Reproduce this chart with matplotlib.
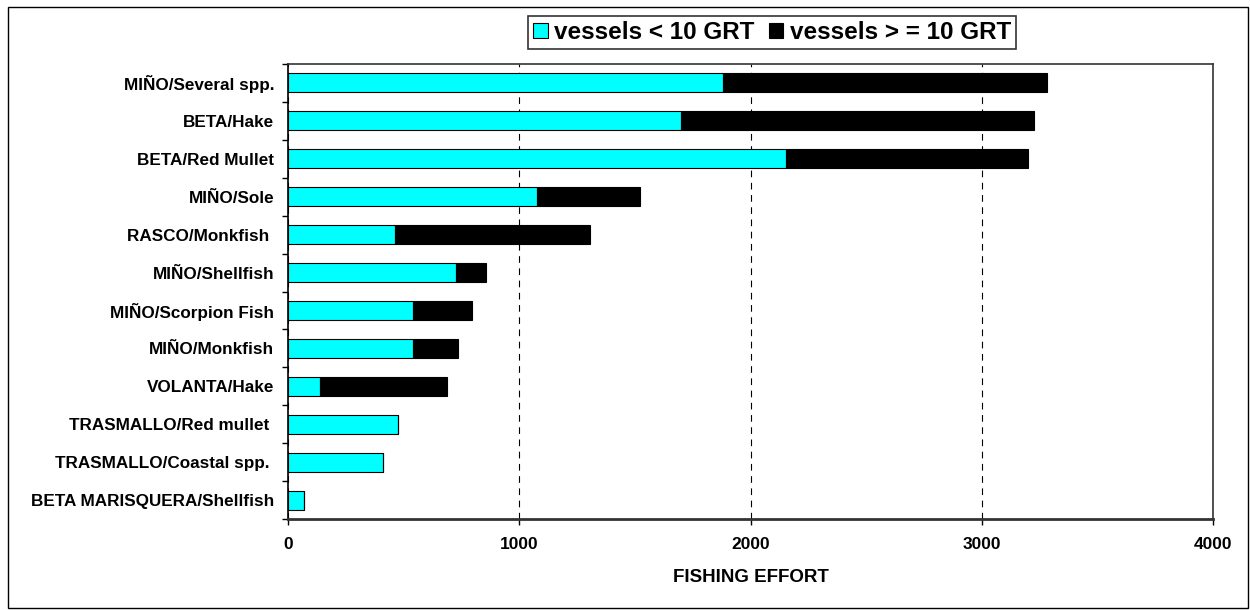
import matplotlib
matplotlib.use("Agg")
import matplotlib.pyplot as plt
from matplotlib.patches import Rectangle
import numpy as np

categories = ["MIÑO/Several spp.", "BETA/Hake", "BETA/Red Mullet", "MIÑO/Sole",
              "RASCO/Monkfish ", "MIÑO/Shellfish", "MIÑO/Scorpion Fish", "MIÑO/Monkfish",
              "VOLANTA/Hake", "TRASMALLO/Red mullet ", "TRASMALLO/Coastal spp. ",
              "BETA MARISQUERA/Shellfish"]
small_vessels = [1879, 1698, 2153, 1076, 464, 727, 542, 542, 137, 477, 412, 69]
large_vessels = [1402, 1530, 1047, 446, 844, 128, 255, 195, 551, 0, 0, 0]
x_ticks = [0, 1000, 2000, 3000, 4000]
series_names = ["vessels < 10 GRT", "vessels > = 10 GRT"]

plt.rcParams['font.family'] = ['Liberation Sans', 'DejaVu Sans']
plt.rcParams['font.weight'] = 'bold'

fig = plt.figure(figsize=(12.5, 6.1), dpi=100)
ax = fig.add_axes([288/1250, 1 - 519/610, (1213-288)/1250, (519-64)/610])

y = np.arange(len(categories))
b1 = ax.barh(y, small_vessels, height=0.5, color="#00FFFF", edgecolor="black", linewidth=0.8, zorder=3)
b2 = ax.barh(y, large_vessels, left=small_vessels, height=0.5, color="black", edgecolor="black",
             linewidth=0.8, zorder=3)

ax.set_ylim(len(categories) - 0.5, -0.5)
ax.set_xlim(0, 4000)
ax.set_xticks(x_ticks)
ax.set_xticklabels([str(t) for t in x_ticks], fontsize=12.5, fontweight='bold')
ax.set_yticks(y)
ax.set_yticklabels(categories, fontsize=12.3, fontweight='bold')
ax.tick_params(axis='y', which='major', length=0, pad=10)
ax.set_yticks(np.arange(-0.5, len(categories), 1), minor=True)
ax.tick_params(axis='y', which='minor', length=4, width=1, color='black')
ax.tick_params(axis='x', which='major', length=4, width=1, pad=9)

ax.xaxis.grid(True, linestyle=(0, (6, 5)), color='black', linewidth=0.8, zorder=0)
for s in ['top', 'right']:
    ax.spines[s].set_color('#333333')
    ax.spines[s].set_linewidth(1.2)
ax.spines['bottom'].set_color('#333333')
ax.spines['bottom'].set_linewidth(2)
ax.spines['left'].set_color('black')
ax.spines['left'].set_linewidth(1.2)

ax.set_xlabel("FISHING EFFORT", fontsize=13.5, fontweight='bold', labelpad=12)

leg = fig.legend([b1, b2], series_names, loc='center', bbox_to_anchor=(772/1250, 1 - 32.5/610),
                 ncol=2, frameon=True, fancybox=False, edgecolor='black',
                 prop={'weight': 'bold', 'size': 17.5}, handlelength=0.6, handleheight=0.6,
                 handletextpad=0.25, columnspacing=0.6, borderpad=0.2, borderaxespad=0)
leg.get_frame().set_linewidth(1.2)

fig.patches.append(Rectangle((8/1250, 2/610), 1240/1250, 601/610, transform=fig.transFigure,
                             fill=False, edgecolor='black', linewidth=1))

fig.savefig("out.png", dpi=100)
